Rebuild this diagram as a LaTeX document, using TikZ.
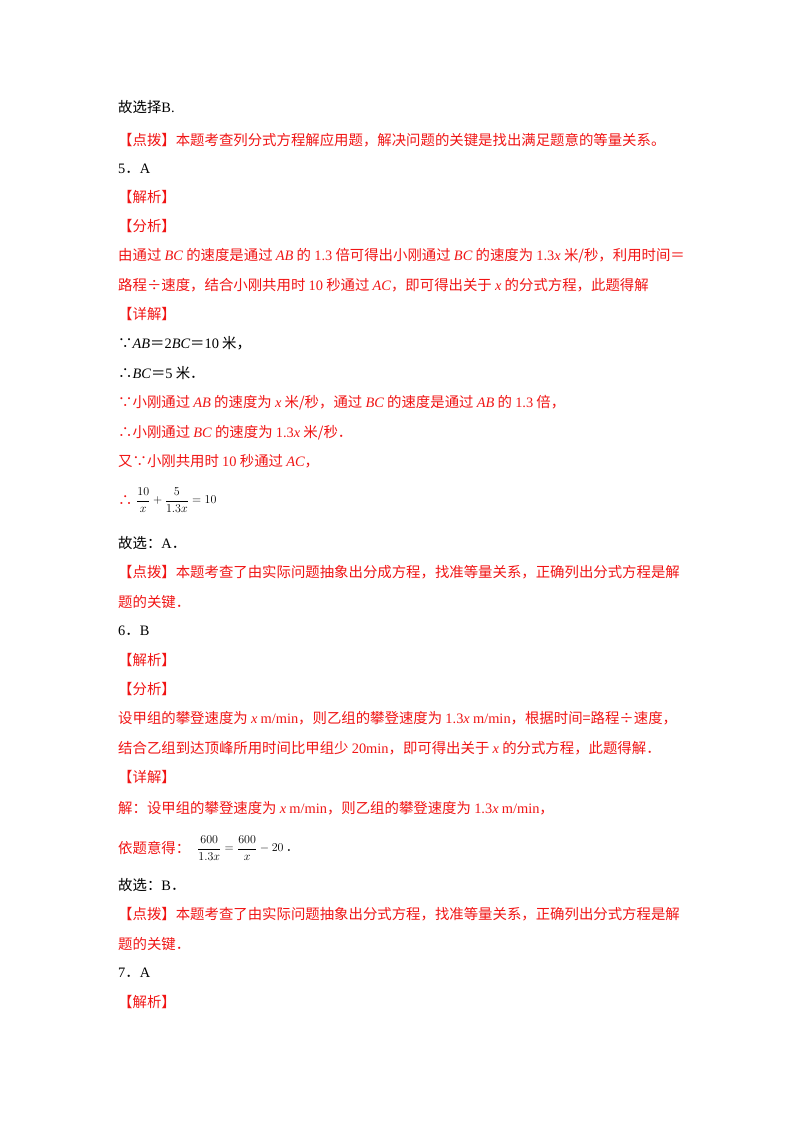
\documentclass[tikz,border=0pt]{standalone}
\usepackage{fontspec}
\setmainfont{Noto Sans CJK SC}
\newfontfamily\lat{Liberation Serif}
\definecolor{rd}{RGB}{240,20,20}
\newcommand{\vi}[1]{{\lat\itshape #1}}
\newcommand{\nn}[1]{{\lat #1}}
\begin{document}
\begin{tikzpicture}[x=1pt,y=-1pt,
  ln/.style={anchor=base west,inner sep=0pt,font=\fontsize{14.4}{16}\selectfont},
  r/.style={ln,text=rd},
  eq/.style={anchor=west,inner sep=0pt,font=\fontsize{12}{14}\selectfont}]
\useasboundingbox (0,0) rectangle (800,1132);
\node[ln] (l1) at (118,112) {故选择\nn{B.}};
\node[r] (l2) at (118,145) {【点拨】本题考查列分式方程解应用题，解决问题的关键是找出满足题意的等量关系。};
\node[ln] (l3) at (118,173) {\nn{5}．\nn{A}};
\node[r] (l4) at (118,202) {【解析】};
\node[r] (l5) at (118,231) {【分析】};
\node[r] (l6) at (118,260) {由通过 \vi{BC} 的速度是通过 \vi{AB} 的 \nn{1.3} 倍可得出小刚通过 \vi{BC} 的速度为 \nn{1.3}\vi{x} 米/秒，利用时间＝};
\node[r] (l7) at (118,290) {路程÷速度，结合小刚共用时 \nn{10} 秒通过 \vi{AC}，即可得出关于 \vi{x} 的分式方程，此题得解};
\node[r] (l8) at (118,319) {【详解】};
\node[ln] (l9) at (118,348) {∵\vi{AB}＝\nn{2}\vi{BC}＝\nn{10} 米，};
\node[ln] (l10) at (118,378) {∴\vi{BC}＝\nn{5} 米．};
\node[r] (l11) at (118,407) {∵小刚通过 \vi{AB} 的速度为 \vi{x} 米/秒，通过 \vi{BC} 的速度是通过 \vi{AB} 的 \nn{1.3} 倍，};
\node[r] (l12) at (118,437) {∴小刚通过 \vi{BC} 的速度为 \nn{1.3}\vi{x} 米/秒．};
\node[r] (l13) at (118,466) {又∵小刚共用时 \nn{10} 秒通过 \vi{AC}，};
\node[r] (l14) at (118,505) {∴};
\node[eq] (l14b) at (136,500) {$\displaystyle\frac{10}{x}+\frac{5}{1.3x}=10$};
\node[ln] (l15) at (118,548) {故选：\nn{A}．};
\node[r] (l16) at (118,577) {【点拨】本题考查了由实际问题抽象出分成方程，找准等量关系，正确列出分式方程是解};
\node[r] (l17) at (118,607) {题的关键．};
\node[ln] (l18) at (118,635) {\nn{6}．\nn{B}};
\node[r] (l19) at (118,665) {【解析】};
\node[r] (l20) at (118,694) {【分析】};
\node[r] (l21) at (118,723) {设甲组的攀登速度为 \vi{x} \nn{m/min}，则乙组的攀登速度为 \nn{1.3}\vi{x} \nn{m/min}，根据时间=路程÷速度，};
\node[r] (l22) at (118,753) {结合乙组到达顶峰所用时间比甲组少 \nn{20min}，即可得出关于 \vi{x} 的分式方程，此题得解．};
\node[r] (l23) at (118,782) {【详解】};
\node[r] (l24) at (118,813) {解：设甲组的攀登速度为 \vi{x} \nn{m/min}，则乙组的攀登速度为 \nn{1.3}\vi{x} \nn{m/min}，};
\node[r] (l25) at (118,853) {依题意得：};
\node[eq] (l25b) at (197,848) {$\displaystyle\frac{600}{1.3x}=\frac{600}{x}-20$\ ．};
\node[ln] (l26) at (118,890) {故选：\nn{B}．};
\node[r] (l27) at (118,919) {【点拨】本题考查了由实际问题抽象出分式方程，找准等量关系，正确列出分式方程是解};
\node[r] (l28) at (118,949) {题的关键．};
\node[ln] (l29) at (118,977) {\nn{7}．\nn{A}};
\node[r] (l30) at (118,1007) {【解析】};
\end{tikzpicture}
\end{document}
